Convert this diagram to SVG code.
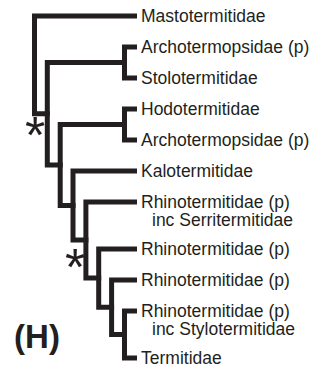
<svg xmlns="http://www.w3.org/2000/svg" width="328" height="376" viewBox="0 0 328 376">
<style>
.e{fill:none;stroke:#231f20;stroke-width:5;stroke-linejoin:miter;stroke-linecap:butt}
.t{font-family:"Liberation Sans",Arial,sans-serif;font-size:17.5px;fill:#231f20}
.s{font-family:"Liberation Sans",Arial,sans-serif;font-size:52px;fill:#231f20;text-anchor:middle}
.h{font-family:"Liberation Sans",Arial,sans-serif;font-size:33px;font-weight:bold;fill:#231f20;text-anchor:middle}
</style>
<rect width="328" height="376" fill="#fff"/>
<g id="connectors">
<path class="e" d="M137,16 H34.5 V113.75 H49.8"/>
<path class="e" d="M127,62.5 H47.3 V165 H62.7"/>
<path class="e" d="M127,124.5 H60.2 V205.5 H75.5"/>
<path class="e" d="M137,171 H73 V240 H88.4"/>
<path class="e" d="M137,202 H85.9 V278.1 H101.2"/>
<path class="e" d="M137,249 H98.7 V307.25 H114.1"/>
<path class="e" d="M137,280 H111.6 V334.5 H127"/>
<path class="e" d="M137,47 H124.5 V78 H137"/>
<path class="e" d="M137,109 H124.5 V140 H137"/>
<path class="e" d="M137,311 H124.5 V358 H137"/>
</g>
<g id="n-masto"><text class="t" x="141" y="22">Mastotermitidae</text></g>
<g id="n-archo1"><text class="t" x="141" y="53">Archotermopsidae (p)</text></g>
<g id="n-stolo"><text class="t" x="141" y="84">Stolotermitidae</text></g>
<g id="n-hodo"><text class="t" x="141" y="115">Hodotermitidae</text></g>
<g id="n-archo2"><text class="t" x="141" y="146">Archotermopsidae (p)</text></g>
<g id="n-kalo"><text class="t" x="141" y="177">Kalotermitidae</text></g>
<g id="n-rhino1"><text class="t" x="141" y="208">Rhinotermitidae (p)<tspan x="152" dy="18">inc Serritermitidae</tspan></text></g>
<g id="n-rhino2"><text class="t" x="141" y="255">Rhinotermitidae (p)</text></g>
<g id="n-rhino3"><text class="t" x="141" y="286">Rhinotermitidae (p)</text></g>
<g id="n-rhino4"><text class="t" x="141" y="317">Rhinotermitidae (p)<tspan x="152" dy="18">inc Stylotermitidae</tspan></text></g>
<g id="n-termit"><text class="t" x="141" y="364">Termitidae</text></g>
<g id="support">
<text class="s" x="35" y="153">*</text>
<text class="s" x="75" y="285">*</text>
</g>
<g id="label"><text class="h" x="37" y="348">(H)</text></g>
</svg>
